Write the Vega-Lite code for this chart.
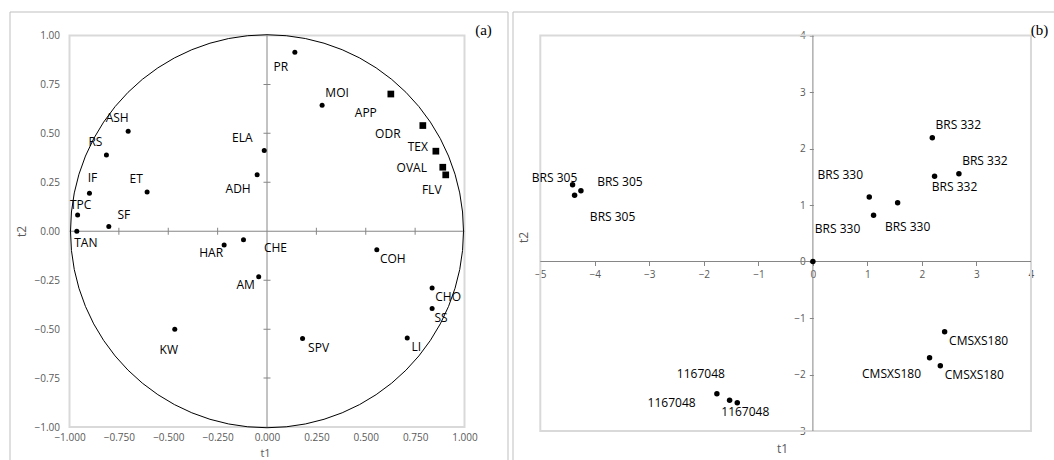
{
  "$schema": "https://vega.github.io/schema/vega-lite/v6.json",
  "padding": {"left": 9, "top": 11, "right": 0, "bottom": 0},
  "background": "white",
  "spacing": 5,
  "bounds": "flush",
  "datasets": {
    "loadings": [
      {"name": "ASH", "type": "physicochemical", "t1": -0.703, "t2": 0.511},
      {"name": "RS", "type": "physicochemical", "t1": -0.813, "t2": 0.390},
      {"name": "IF", "type": "physicochemical", "t1": -0.899, "t2": 0.194},
      {"name": "ET", "type": "physicochemical", "t1": -0.607, "t2": 0.201},
      {"name": "TPC", "type": "physicochemical", "t1": -0.959, "t2": 0.083},
      {"name": "SF", "type": "physicochemical", "t1": -0.801, "t2": 0.024},
      {"name": "TAN", "type": "physicochemical", "t1": -0.963, "t2": 0.000},
      {"name": "ELA", "type": "physicochemical", "t1": -0.014, "t2": 0.412},
      {"name": "ADH", "type": "physicochemical", "t1": -0.050, "t2": 0.288},
      {"name": "PR", "type": "physicochemical", "t1": 0.141, "t2": 0.914},
      {"name": "MOI", "type": "physicochemical", "t1": 0.279, "t2": 0.644},
      {"name": "APP", "type": "sensory", "t1": 0.627, "t2": 0.701},
      {"name": "ODR", "type": "sensory", "t1": 0.789, "t2": 0.540},
      {"name": "TEX", "type": "sensory", "t1": 0.855, "t2": 0.409},
      {"name": "OVAL", "type": "sensory", "t1": 0.890, "t2": 0.327},
      {"name": "FLV", "type": "sensory", "t1": 0.905, "t2": 0.288},
      {"name": "HAR", "type": "physicochemical", "t1": -0.217, "t2": -0.070},
      {"name": "CHE", "type": "physicochemical", "t1": -0.119, "t2": -0.043},
      {"name": "AM", "type": "physicochemical", "t1": -0.042, "t2": -0.233},
      {"name": "KW", "type": "physicochemical", "t1": -0.467, "t2": -0.501},
      {"name": "COH", "type": "physicochemical", "t1": 0.556, "t2": -0.094},
      {"name": "CHO", "type": "physicochemical", "t1": 0.836, "t2": -0.290},
      {"name": "SS", "type": "physicochemical", "t1": 0.836, "t2": -0.395},
      {"name": "SPV", "type": "physicochemical", "t1": 0.180, "t2": -0.548},
      {"name": "LI", "type": "physicochemical", "t1": 0.710, "t2": -0.545}
    ],
    "scores": [
      {"name": "BRS 305", "rep": 1, "t1": -4.408, "t2": 1.359},
      {"name": "BRS 305", "rep": 2, "t1": -4.255, "t2": 1.253},
      {"name": "BRS 305", "rep": 3, "t1": -4.371, "t2": 1.172},
      {"name": "BRS 332", "rep": 1, "t1": 2.190, "t2": 2.191},
      {"name": "BRS 332", "rep": 2, "t1": 2.232, "t2": 1.508},
      {"name": "BRS 332", "rep": 3, "t1": 2.678, "t2": 1.554},
      {"name": "BRS 330", "rep": 1, "t1": 1.034, "t2": 1.142},
      {"name": "BRS 330", "rep": 2, "t1": 1.113, "t2": 0.818},
      {"name": "BRS 330", "rep": 3, "t1": 1.554, "t2": 1.041},
      {"name": "1167048", "rep": 1, "t1": -1.761, "t2": -2.340},
      {"name": "1167048", "rep": 2, "t1": -1.528, "t2": -2.457},
      {"name": "1167048", "rep": 3, "t1": -1.387, "t2": -2.499},
      {"name": "CMSXS180", "rep": 1, "t1": 2.416, "t2": -1.242},
      {"name": "CMSXS180", "rep": 2, "t1": 2.140, "t2": -1.703},
      {"name": "CMSXS180", "rep": 3, "t1": 2.337, "t2": -1.844},
      {"name": "", "rep": 0, "t1": 0, "t2": 0}
    ],
    "ticksA": [
      {"v": -0.75}, {"v": -0.5}, {"v": -0.25}, {"v": 0.25}, {"v": 0.5}, {"v": 0.75}
    ]
  },
  "hconcat": [
    {
      "width": 498,
      "height": 449,
      "data": {"name": "loadings"},
      "layer": [
        {
          "data": {"values": [{}]},
          "mark": {"type": "rule", "color": "#bfbfbf", "strokeWidth": 1},
          "encoding": {"y": {"datum": 1.12005, "type": "quantitative", "axis": {"title": "t2"}}}
        },
        {
          "data": {"values": [{}]},
          "mark": {"type": "rule", "color": "#bfbfbf", "strokeWidth": 1},
          "encoding": {"x": {"datum": -1.30127, "type": "quantitative", "axis": {"title": "t1"}}}
        },
        {
          "data": {"values": [{}]},
          "mark": {"type": "rule", "color": "#bfbfbf", "strokeWidth": 1},
          "encoding": {"x": {"datum": 1.22025, "type": "quantitative", "axis": {"title": "t1"}}}
        },
        {
          "data": {"values": [{}]},
          "mark": {"type": "rect", "filled": false, "color": "#d9d9d9", "strokeWidth": 2},
          "encoding": {
            "x": {"datum": -1, "type": "quantitative", "axis": {"title": "t1"}},
            "x2": {"datum": 1},
            "y": {"datum": -1, "type": "quantitative", "axis": {"title": "t2"}},
            "y2": {"datum": 1}
          }
        },
        {
          "data": {"values": [{}]},
          "mark": {"type": "rule", "color": "#868686", "strokeWidth": 1},
          "encoding": {
            "x": {"datum": 0, "type": "quantitative", "axis": {"title": "t1"}},
            "y": {"datum": -1, "type": "quantitative", "axis": {"title": "t2"}},
            "y2": {"datum": 1}
          }
        },
        {
          "data": {"values": [{}]},
          "mark": {"type": "rule", "color": "#868686", "strokeWidth": 1},
          "encoding": {
            "y": {"datum": 0, "type": "quantitative", "axis": {"title": "t2"}},
            "x": {"datum": -1, "type": "quantitative", "axis": {"title": "t1"}},
            "x2": {"datum": 1}
          }
        },
        {
          "data": {"name": "ticksA"},
          "mark": {"type": "tick", "orient": "vertical", "color": "#868686", "size": 7, "thickness": 1, "opacity": 1},
          "encoding": {
            "x": {"field": "v", "type": "quantitative", "axis": {"title": "t1"}},
            "y": {"datum": 0, "type": "quantitative", "axis": {"title": "t2"}}
          }
        },
        {
          "data": {"name": "ticksA"},
          "mark": {"type": "tick", "orient": "horizontal", "color": "#868686", "size": 7, "thickness": 1, "opacity": 1},
          "encoding": {
            "y": {"field": "v", "type": "quantitative", "axis": {"title": "t2"}},
            "x": {"datum": 0, "type": "quantitative", "axis": {"title": "t1"}}
          }
        },
        {
          "data": {"values": [{}]},
          "mark": {"type": "point", "shape": "circle", "filled": false, "stroke": "black", "strokeWidth": 1, "size": 154449, "opacity": 1},
          "encoding": {
            "x": {"datum": 0, "type": "quantitative", "axis": {"title": "t1"}},
            "y": {"datum": 0, "type": "quantitative", "axis": {"title": "t2"}}
          }
        },
        {
          "transform": [{"filter": "datum.type !== 'sensory'"}],
          "mark": {"type": "point", "shape": "circle", "filled": true, "color": "black", "size": 25, "opacity": 1},
          "encoding": {
            "x": {
              "field": "t1", "type": "quantitative",
              "scale": {"domain": [-1.30127, 1.22025], "nice": false, "zero": false},
              "axis": {
                "values": [-1, -0.75, -0.5, -0.25, 0, 0.25, 0.5, 0.75, 1],
                "format": ".3f", "offset": -34, "ticks": false, "domain": false, "labelFlush": false,
                "labelPadding": 5, "title": "t1", "titleFontSize": 11, "titleX": 255, "titleY": 26, "titleBaseline": "middle"
              }
            },
            "y": {
              "field": "t2", "type": "quantitative",
              "scale": {"domain": [-1.17369, 1.12005], "nice": false, "zero": false},
              "axis": {
                "values": [-1, -0.75, -0.5, -0.25, 0, 0.25, 0.5, 0.75, 1],
                "format": ".2f", "offset": -59.5, "ticks": false, "domain": false, "labelFlush": false,
                "labelPadding": 10, "title": "t2", "titleX": -48, "titleY": 219, "titleBaseline": "middle"
              }
            }
          }
        },
        {
          "transform": [{"filter": "datum.type === 'sensory'"}],
          "mark": {"type": "point", "shape": "square", "filled": true, "color": "black", "size": 45, "opacity": 1},
          "encoding": {
            "x": {"field": "t1", "type": "quantitative", "axis": {"title": "t1"}},
            "y": {"field": "t2", "type": "quantitative", "axis": {"title": "t2"}}
          }
        },
        {"transform": [{"filter": {"field": "name", "oneOf": ["ASH", "RS", "ET"]}}], "mark": {"type": "text", "dx": -11, "dy": -13}, "encoding": {"x": {"field": "t1", "type": "quantitative", "axis": {"title": "t1"}}, "y": {"field": "t2", "type": "quantitative", "axis": {"title": "t2"}}, "text": {"field": "name"}}},
        {"transform": [{"filter": {"field": "name", "oneOf": ["IF"]}}], "mark": {"type": "text", "dx": 3, "dy": -15}, "encoding": {"x": {"field": "t1", "type": "quantitative", "axis": {"title": "t1"}}, "y": {"field": "t2", "type": "quantitative", "axis": {"title": "t2"}}, "text": {"field": "name"}}},
        {"transform": [{"filter": {"field": "name", "oneOf": ["TPC"]}}], "mark": {"type": "text", "dx": 3, "dy": -10}, "encoding": {"x": {"field": "t1", "type": "quantitative", "axis": {"title": "t1"}}, "y": {"field": "t2", "type": "quantitative", "axis": {"title": "t2"}}, "text": {"field": "name"}}},
        {"transform": [{"filter": {"field": "name", "oneOf": ["SF", "MOI"]}}], "mark": {"type": "text", "dx": 15, "dy": -12}, "encoding": {"x": {"field": "t1", "type": "quantitative", "axis": {"title": "t1"}}, "y": {"field": "t2", "type": "quantitative", "axis": {"title": "t2"}}, "text": {"field": "name"}}},
        {"transform": [{"filter": {"field": "name", "oneOf": ["TAN"]}}], "mark": {"type": "text", "dx": 9, "dy": 12}, "encoding": {"x": {"field": "t1", "type": "quantitative", "axis": {"title": "t1"}}, "y": {"field": "t2", "type": "quantitative", "axis": {"title": "t2"}}, "text": {"field": "name"}}},
        {"transform": [{"filter": {"field": "name", "oneOf": ["ELA"]}}], "mark": {"type": "text", "dx": -22, "dy": -13}, "encoding": {"x": {"field": "t1", "type": "quantitative", "axis": {"title": "t1"}}, "y": {"field": "t2", "type": "quantitative", "axis": {"title": "t2"}}, "text": {"field": "name"}}},
        {"transform": [{"filter": {"field": "name", "oneOf": ["ADH"]}}], "mark": {"type": "text", "dx": -19, "dy": 14}, "encoding": {"x": {"field": "t1", "type": "quantitative", "axis": {"title": "t1"}}, "y": {"field": "t2", "type": "quantitative", "axis": {"title": "t2"}}, "text": {"field": "name"}}},
        {"transform": [{"filter": {"field": "name", "oneOf": ["PR", "FLV"]}}], "mark": {"type": "text", "dx": -14, "dy": 15}, "encoding": {"x": {"field": "t1", "type": "quantitative", "axis": {"title": "t1"}}, "y": {"field": "t2", "type": "quantitative", "axis": {"title": "t2"}}, "text": {"field": "name"}}},
        {"transform": [{"filter": {"field": "name", "oneOf": ["APP"]}}], "mark": {"type": "text", "dx": -25, "dy": 19}, "encoding": {"x": {"field": "t1", "type": "quantitative", "axis": {"title": "t1"}}, "y": {"field": "t2", "type": "quantitative", "axis": {"title": "t2"}}, "text": {"field": "name"}}},
        {"transform": [{"filter": {"field": "name", "oneOf": ["ODR"]}}], "mark": {"type": "text", "dx": -35, "dy": 8}, "encoding": {"x": {"field": "t1", "type": "quantitative", "axis": {"title": "t1"}}, "y": {"field": "t2", "type": "quantitative", "axis": {"title": "t2"}}, "text": {"field": "name"}}},
        {"transform": [{"filter": {"field": "name", "oneOf": ["TEX"]}}], "mark": {"type": "text", "dx": -18, "dy": -4}, "encoding": {"x": {"field": "t1", "type": "quantitative", "axis": {"title": "t1"}}, "y": {"field": "t2", "type": "quantitative", "axis": {"title": "t2"}}, "text": {"field": "name"}}},
        {"transform": [{"filter": {"field": "name", "oneOf": ["OVAL"]}}], "mark": {"type": "text", "dx": -31, "dy": 1}, "encoding": {"x": {"field": "t1", "type": "quantitative", "axis": {"title": "t1"}}, "y": {"field": "t2", "type": "quantitative", "axis": {"title": "t2"}}, "text": {"field": "name"}}},
        {"transform": [{"filter": {"field": "name", "oneOf": ["HAR", "AM"]}}], "mark": {"type": "text", "dx": -13, "dy": 8}, "encoding": {"x": {"field": "t1", "type": "quantitative", "axis": {"title": "t1"}}, "y": {"field": "t2", "type": "quantitative", "axis": {"title": "t2"}}, "text": {"field": "name"}}},
        {"transform": [{"filter": {"field": "name", "oneOf": ["CHE"]}}], "mark": {"type": "text", "dx": 32, "dy": 8}, "encoding": {"x": {"field": "t1", "type": "quantitative", "axis": {"title": "t1"}}, "y": {"field": "t2", "type": "quantitative", "axis": {"title": "t2"}}, "text": {"field": "name"}}},
        {"transform": [{"filter": {"field": "name", "oneOf": ["KW"]}}], "mark": {"type": "text", "dx": -6, "dy": 21}, "encoding": {"x": {"field": "t1", "type": "quantitative", "axis": {"title": "t1"}}, "y": {"field": "t2", "type": "quantitative", "axis": {"title": "t2"}}, "text": {"field": "name"}}},
        {"transform": [{"filter": {"field": "name", "oneOf": ["COH", "CHO", "SPV"]}}], "mark": {"type": "text", "dx": 16, "dy": 9}, "encoding": {"x": {"field": "t1", "type": "quantitative", "axis": {"title": "t1"}}, "y": {"field": "t2", "type": "quantitative", "axis": {"title": "t2"}}, "text": {"field": "name"}}},
        {"transform": [{"filter": {"field": "name", "oneOf": ["SS", "LI"]}}], "mark": {"type": "text", "dx": 9, "dy": 9}, "encoding": {"x": {"field": "t1", "type": "quantitative", "axis": {"title": "t1"}}, "y": {"field": "t2", "type": "quantitative", "axis": {"title": "t2"}}, "text": {"field": "name"}}},
        {
          "data": {"values": [{}]},
          "mark": {"type": "text", "text": "(a)", "font": "Liberation Serif", "fontSize": 15, "color": "black"},
          "encoding": {
            "x": {"datum": 1.0962, "type": "quantitative", "axis": {"title": "t1"}},
            "y": {"datum": 1.0268, "type": "quantitative", "axis": {"title": "t2"}}
          }
        }
      ]
    },
    {
      "width": 542,
      "height": 449,
      "data": {"name": "scores"},
      "layer": [
        {
          "data": {"values": [{}]},
          "mark": {"type": "rule", "color": "#bfbfbf", "strokeWidth": 1},
          "encoding": {"y": {"datum": 4.41593, "type": "quantitative", "axis": {"title": "t2"}}}
        },
        {
          "data": {"values": [{}]},
          "mark": {"type": "rule", "color": "#bfbfbf", "strokeWidth": 1},
          "encoding": {"x": {"datum": -5.50073, "type": "quantitative", "axis": {"title": "t1"}}}
        },
        {
          "data": {"values": [{}]},
          "mark": {"type": "rect", "filled": false, "color": "#d9d9d9", "strokeWidth": 2},
          "encoding": {
            "x": {"datum": -5, "type": "quantitative", "axis": {"title": "t1"}},
            "x2": {"datum": 4},
            "y": {"datum": -3, "type": "quantitative", "axis": {"title": "t2"}},
            "y2": {"datum": 4}
          }
        },
        {
          "data": {"values": [{}]},
          "mark": {"type": "rule", "color": "#868686", "strokeWidth": 1},
          "encoding": {
            "x": {"datum": 0, "type": "quantitative", "axis": {"title": "t1"}},
            "y": {"datum": -3, "type": "quantitative", "axis": {"title": "t2"}},
            "y2": {"datum": 4}
          }
        },
        {
          "data": {"values": [{}]},
          "mark": {"type": "rule", "color": "#868686", "strokeWidth": 1},
          "encoding": {
            "y": {"datum": 0, "type": "quantitative", "axis": {"title": "t2"}},
            "x": {"datum": -5, "type": "quantitative", "axis": {"title": "t1"}},
            "x2": {"datum": 4}
          }
        },
        {
          "mark": {"type": "point", "shape": "circle", "filled": true, "color": "black", "size": 30, "opacity": 1},
          "encoding": {
            "x": {
              "field": "t1", "type": "quantitative",
              "scale": {"domain": [-5.50073, 4.44058], "nice": false, "zero": false},
              "axis": {
                "values": [-5, -4, -3, -2, -1, 0, 1, 2, 3, 4],
                "format": "d", "offset": -199.5, "domain": false, "ticks": true, "tickSize": 4,
                "labelFlush": false, "labelPadding": 4,
                "title": "t1", "titleX": 269, "titleY": 186.5, "titleBaseline": "middle"
              }
            },
            "y": {
              "field": "t2", "type": "quantitative",
              "scale": {"domain": [-3.53097, 4.41593], "nice": false, "zero": false},
              "axis": {
                "values": [-3, -2, -1, 0, 1, 2, 3, 4],
                "format": "d", "offset": -300.3, "domain": false, "ticks": true, "tickSize": 4,
                "labelFlush": false, "labelPadding": 4,
                "title": "t2", "titleX": -290.3, "titleY": 225, "titleBaseline": "middle"
              }
            }
          }
        },
        {"transform": [{"filter": "datum.name === 'BRS 305' && datum.rep === 1"}], "mark": {"type": "text", "dx": -18, "dy": -7}, "encoding": {"x": {"field": "t1", "type": "quantitative", "axis": {"title": "t1"}}, "y": {"field": "t2", "type": "quantitative", "axis": {"title": "t2"}}, "text": {"field": "name"}}},
        {"transform": [{"filter": "datum.name === 'BRS 305' && datum.rep === 2"}], "mark": {"type": "text", "dx": 39, "dy": -9}, "encoding": {"x": {"field": "t1", "type": "quantitative", "axis": {"title": "t1"}}, "y": {"field": "t2", "type": "quantitative", "axis": {"title": "t2"}}, "text": {"field": "name"}}},
        {"transform": [{"filter": "datum.name === 'BRS 305' && datum.rep === 3"}], "mark": {"type": "text", "dx": 38, "dy": 22}, "encoding": {"x": {"field": "t1", "type": "quantitative", "axis": {"title": "t1"}}, "y": {"field": "t2", "type": "quantitative", "axis": {"title": "t2"}}, "text": {"field": "name"}}},
        {"transform": [{"filter": "datum.name === 'BRS 332' && datum.rep !== 2"}], "mark": {"type": "text", "dx": 26, "dy": -12.5}, "encoding": {"x": {"field": "t1", "type": "quantitative", "axis": {"title": "t1"}}, "y": {"field": "t2", "type": "quantitative", "axis": {"title": "t2"}}, "text": {"field": "name"}}},
        {"transform": [{"filter": "datum.name === 'BRS 332' && datum.rep === 2"}], "mark": {"type": "text", "dx": 20, "dy": 11}, "encoding": {"x": {"field": "t1", "type": "quantitative", "axis": {"title": "t1"}}, "y": {"field": "t2", "type": "quantitative", "axis": {"title": "t2"}}, "text": {"field": "name"}}},
        {"transform": [{"filter": "datum.name === 'BRS 330' && datum.rep === 1"}], "mark": {"type": "text", "dx": -29, "dy": -22}, "encoding": {"x": {"field": "t1", "type": "quantitative", "axis": {"title": "t1"}}, "y": {"field": "t2", "type": "quantitative", "axis": {"title": "t2"}}, "text": {"field": "name"}}},
        {"transform": [{"filter": "datum.name === 'BRS 330' && datum.rep === 2"}], "mark": {"type": "text", "dx": -36, "dy": 14}, "encoding": {"x": {"field": "t1", "type": "quantitative", "axis": {"title": "t1"}}, "y": {"field": "t2", "type": "quantitative", "axis": {"title": "t2"}}, "text": {"field": "name"}}},
        {"transform": [{"filter": "datum.name === 'BRS 330' && datum.rep === 3"}], "mark": {"type": "text", "dx": 10, "dy": 24}, "encoding": {"x": {"field": "t1", "type": "quantitative", "axis": {"title": "t1"}}, "y": {"field": "t2", "type": "quantitative", "axis": {"title": "t2"}}, "text": {"field": "name"}}},
        {"transform": [{"filter": "datum.name === '1167048' && datum.rep === 1"}], "mark": {"type": "text", "dx": -16, "dy": -20}, "encoding": {"x": {"field": "t1", "type": "quantitative", "axis": {"title": "t1"}}, "y": {"field": "t2", "type": "quantitative", "axis": {"title": "t2"}}, "text": {"field": "name"}}},
        {"transform": [{"filter": "datum.name === '1167048' && datum.rep === 2"}], "mark": {"type": "text", "dx": -58, "dy": 3}, "encoding": {"x": {"field": "t1", "type": "quantitative", "axis": {"title": "t1"}}, "y": {"field": "t2", "type": "quantitative", "axis": {"title": "t2"}}, "text": {"field": "name"}}},
        {"transform": [{"filter": "datum.name === '1167048' && datum.rep === 3"}], "mark": {"type": "text", "dx": 8, "dy": 9}, "encoding": {"x": {"field": "t1", "type": "quantitative", "axis": {"title": "t1"}}, "y": {"field": "t2", "type": "quantitative", "axis": {"title": "t2"}}, "text": {"field": "name"}}},
        {"transform": [{"filter": "datum.name === 'CMSXS180' && datum.rep !== 2"}], "mark": {"type": "text", "dx": 34, "dy": 9}, "encoding": {"x": {"field": "t1", "type": "quantitative", "axis": {"title": "t1"}}, "y": {"field": "t2", "type": "quantitative", "axis": {"title": "t2"}}, "text": {"field": "name"}}},
        {"transform": [{"filter": "datum.name === 'CMSXS180' && datum.rep === 2"}], "mark": {"type": "text", "dx": -38, "dy": 16}, "encoding": {"x": {"field": "t1", "type": "quantitative", "axis": {"title": "t1"}}, "y": {"field": "t2", "type": "quantitative", "axis": {"title": "t2"}}, "text": {"field": "name"}}},
        {
          "data": {"values": [{}]},
          "mark": {"type": "text", "text": "(b)", "font": "Liberation Serif", "fontSize": 15, "color": "black"},
          "encoding": {
            "x": {"datum": 4.158, "type": "quantitative", "axis": {"title": "t1"}},
            "y": {"datum": 4.097, "type": "quantitative", "axis": {"title": "t2"}}
          }
        }
      ]
    }
  ],
  "config": {
    "view": {"stroke": null},
    "font": "Open Sans",
    "axis": {
      "grid": false,
      "labelFont": "Open Sans",
      "labelFontSize": 10,
      "labelColor": "#595959",
      "titleFont": "Open Sans",
      "titleFontSize": 12,
      "titleFontWeight": "normal",
      "titleColor": "#595959",
      "tickColor": "#868686",
      "tickWidth": 1
    },
    "text": {"font": "Open Sans", "fontSize": 12, "color": "black"}
  }
}
